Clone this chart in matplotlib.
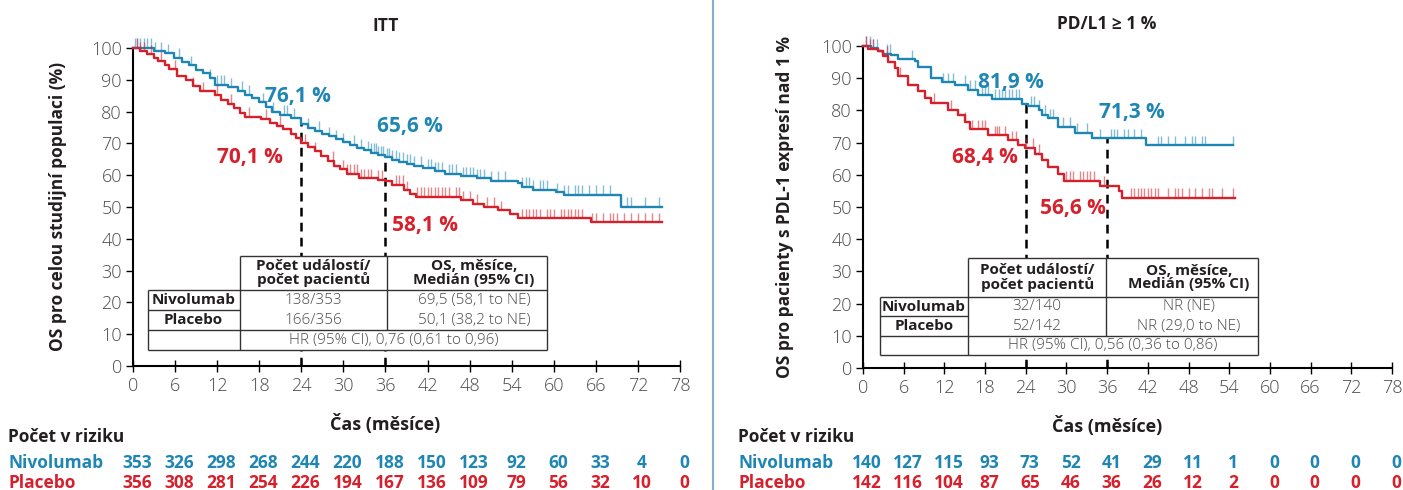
import matplotlib
matplotlib.use("Agg")
import matplotlib.pyplot as plt
import matplotlib.transforms as mtransforms
from matplotlib.patches import Rectangle
import numpy as np

plt.rcParams['font.family'] = ['Open Sans', 'DejaVu Sans']

BLUE = '#1f86b4'
RED = '#d6202c'
DARK = '#231f20'
GRAY = '#4a4a4a'

# ---- data ----
# ITT
itt_nivo_t = [0, 3, 4.5, 5.8, 7, 8, 9, 10, 11, 11.7, 13.5, 15, 16, 17, 18, 19, 19.8, 21, 22.5, 24,
              25, 26, 27, 28, 29, 30, 31, 32, 33, 34, 35, 36, 37, 38, 39, 40, 41.4, 43, 44.5, 46.8,
              49, 51, 54.9, 55.5, 57, 60.3, 61.4, 69.6, 75.4]
itt_nivo_s = [100, 99, 98.3, 97, 95.5, 94.5, 93.2, 92, 90.5, 88.5, 87.6, 86.5, 85.3, 84.2, 83, 81.5,
              80, 79, 78, 76.1, 75, 74, 73, 72.2, 71.3, 70.3, 69.5, 68.5, 67.8, 67, 66.2, 65.6, 64.8,
              64.2, 63.6, 63, 62.2, 61.3, 60.5, 59.6, 59, 58.2, 57.4, 56.4, 55.5, 54.6, 53.8, 50, 50]
itt_plac_t = [0, 1, 2, 3, 3.6, 4.5, 5.2, 6.3, 7.5, 8.5, 9.5, 11.7, 12.5, 13.5, 14.4, 15.2, 16, 18.2,
              19.5, 20.5, 21.4, 22.5, 23.3, 24, 25, 26, 26.8, 27.8, 28.6, 29.5, 30.5, 32.2, 35, 36, 37,
              38.7, 39.5, 40.3, 46.8, 48.5, 50, 52, 53.8, 54.9, 65.3, 75.4]
itt_plac_s = [100, 99, 98, 97, 96, 94.5, 93.3, 91.2, 90, 88, 86.4, 85.3, 83.8, 82.5, 81, 79.5, 78.3,
              77.8, 76.5, 75.5, 74.6, 73, 71.8, 70.1, 68.8, 67.5, 66, 64.5, 63, 61.8, 60.5, 59.1, 58.6,
              58.1, 57, 55.3, 54.2, 53.2, 52.1, 51, 50, 49, 47.9, 46.5, 45.2, 45.2]
itt_nivo_cens = [0.3, 0.6, 1, 1.5, 2, 2.5, 3.2, 4, 5, 6.5, 8.3, 11, 12, 12.5, 13, 14, 15.5, 16.5,
                 18.5, 20, 21.5, 22, 23, 25, 26.5, 28, 29, 30, 31.5, 32.5, 33.5, 34, 34.3, 34.6, 35,
                 35.3, 35.6, 36.2, 36.5, 37, 37.5, 38, 38.5, 39, 39.5, 40, 41, 42, 42.5, 43, 43.5,
                 44, 45, 45.5, 46, 47, 47.5, 48, 48.5, 49, 49.5, 50, 51, 52, 53, 55.5, 56, 56.5, 57,
                 58, 58.5, 59, 60.5, 61.5, 62, 63, 63.5, 64, 65, 66, 67, 68, 70.5, 71, 73, 75]
itt_plac_cens = [0.5, 1, 1.5, 2.5, 4, 6, 8.5, 10, 12, 14, 16.5, 19, 21, 24.5, 26, 28.5, 30, 30.5, 31,
                 31.5, 32, 32.5, 33, 33.5, 34, 35, 35.5, 37.5, 38, 38.5, 39, 40.5, 41, 41.5, 42,
                 42.5, 43, 43.5, 44, 44.5, 45, 46, 46.5, 47, 48, 49, 50.5, 51.5, 52.5, 55.5, 56,
                 56.5, 57, 57.5, 58, 59, 59.5, 60, 61, 61.5, 62, 62.5, 63, 63.5, 64, 65.5, 66, 67,
                 68, 68.5, 69, 70, 71, 72, 73, 74, 75]

# PD-L1 >= 1 %
pd_nivo_t = [0, 1.2, 2.2, 3, 4.2, 5.2, 7.6, 8.1, 10.1, 11.6, 13.5, 15.5, 17, 19, 23.5, 24.4, 25.9,
             26.4, 27.3, 28.8, 31.3, 33.7, 41.8, 54.5]
pd_nivo_s = [100, 99.3, 98.5, 97.5, 97.1, 95.9, 95.3, 93.6, 90.1, 88.7, 88, 86.4, 84.9, 83.5, 81.9,
             81.4, 80.2, 78.6, 77.5, 74.9, 73, 71.3, 69.2, 69.2]
pd_plac_t = [0, 0.7, 2.2, 3, 3.7, 4.7, 5.2, 6.7, 8.1, 9.1, 10.1, 12.6, 14, 15, 15.8, 18.5, 21.4,
             22.9, 23.9, 25.4, 26.4, 27.3, 28.8, 29.6, 34.9, 37.7, 38.2, 54.8]
pd_plac_s = [100, 99.2, 98.5, 96.9, 95, 93.2, 90.6, 88, 85.9, 83.8, 82.3, 80.2, 78.6, 76.5, 74.1,
             72.3, 70.7, 69.2, 68.4, 66.5, 64.5, 62.4, 60.3, 58.2, 56.6, 55, 52.9, 52.9]
pd_nivo_cens = [0.5, 1, 1.5, 2, 3.5, 4, 7.2, 11.8, 12.5, 13.2, 15, 15.8, 16.5, 17.5, 18, 18.5, 19.5,
                20, 20.5, 21, 21.5, 22, 22.5, 23, 24.8, 25.2, 26, 26.8, 27.5, 28, 29.5, 30.5, 31.5,
                33, 35, 36.5, 37, 37.5, 38.5, 39, 40, 41, 43.5, 44, 45, 46, 47.5, 48.5, 49, 50,
                50.5, 54.5]
pd_plac_cens = [0.5, 1, 1.5, 3.5, 5.5, 10.5, 13, 15, 16, 17, 17.5, 18, 19.5, 19.8, 20, 21, 22, 22.5,
                24, 25, 26, 30, 30.5, 31, 32, 32.5, 33, 33.5, 34, 35.5, 39.5, 40, 40.5, 41, 41.5,
                42, 42.5, 43, 43.5, 45, 46, 46.5, 47, 48, 49, 50, 51, 51.5, 53, 54.5]

risk_times = [0, 6, 12, 18, 24, 30, 36, 42, 48, 54, 60, 66, 72, 78]
itt_risk_nivo = [353, 326, 298, 268, 244, 220, 188, 150, 123, 92, 60, 33, 4, 0]
itt_risk_plac = [356, 308, 281, 254, 226, 194, 167, 136, 109, 79, 56, 32, 10, 0]
pd_risk_nivo = [140, 127, 115, 93, 73, 52, 41, 29, 11, 1, 0, 0, 0, 0]
pd_risk_plac = [142, 116, 104, 87, 65, 46, 36, 26, 12, 2, 0, 0, 0, 0]

itt_marks = {'nivo': [(24, 76.1), (36, 65.6)], 'plac': [(24, 70.1), (36, 58.1)]}
pd_marks = {'nivo': [(24, 81.9), (36, 71.3)], 'plac': [(24, 68.4), (36, 56.6)]}

itt_table = [['138/353', '69,5 (58,1 to NE)'], ['166/356', '50,1 (38,2 to NE)']]
itt_hr = 'HR (95% CI), 0,76 (0,61 to 0,96)'
pd_table = [['32/140', 'NR (NE)'], ['52/142', 'NR (29,0 to NE)']]
pd_hr = 'HR (95% CI), 0,56 (0,36 to 0,86)'


def surv_at(t, s, x):
    t = np.asarray(t)
    idx = np.searchsorted(t, x, side='right') - 1
    return np.asarray(s)[np.clip(idx, 0, len(s) - 1)]


def panel(ax, nt, ns, pt, ps, ncens, pcens, marks, labels, table, hr, tbx, tby, title, ylabel, ylabx):
    ax.step(nt, ns, where='post', color=BLUE, lw=1.7, zorder=3, clip_on=False)
    ax.step(pt, ps, where='post', color=RED, lw=1.7, zorder=3, clip_on=False)
    cn = np.asarray(ncens)
    cn = cn[cn <= nt[-1]]
    yv = surv_at(nt, ns, cn)
    ax.vlines(cn, yv, yv + 3.0, color=BLUE, lw=1.0, alpha=0.55, zorder=3, clip_on=False)
    cp = np.asarray(pcens)
    cp = cp[cp <= pt[-1]]
    yv = surv_at(pt, ps, cp)
    ax.vlines(cp, yv, yv + 3.0, color=RED, lw=1.0, alpha=0.55, zorder=3, clip_on=False)

    # dashed landmarks
    for (x, y) in marks['nivo']:
        ax.plot([x, x], [0, y], color='black', lw=1.8, ls=(0, (3.5, 2.5)), zorder=2)

    for txt, (x, y), c in labels:
        ax.text(x, y, txt, color=c, fontsize=15, fontweight='bold', ha='center', va='center')

    # table
    x0, x1, x2, x3 = tbx
    y0, y1, y2, y3, y4 = tby
    ax.add_patch(Rectangle((x0, y4), x3 - x0, y1 - y4, fc='white', ec='none', zorder=4))
    ax.add_patch(Rectangle((x1, y1), x3 - x1, y0 - y1, fc='white', ec='none', zorder=4))
    lk = dict(color='#333333', lw=1.0, zorder=5, solid_capstyle='butt')
    ax.plot([x1, x3], [y0, y0], **lk)
    ax.plot([x0, x3], [y1, y1], **lk)
    ax.plot([x0, x1], [y2, y2], **lk)
    ax.plot([x0, x3], [y3, y3], **lk)
    ax.plot([x0, x3], [y4, y4], **lk)
    ax.plot([x0, x0], [y1, y4], **lk)
    ax.plot([x1, x1], [y0, y4], **lk)
    ax.plot([x2, x2], [y0, y3], **lk)
    ax.plot([x3, x3], [y0, y4], **lk)
    hk = dict(fontsize=11, fontweight='bold', color=DARK, ha='center', va='center', zorder=6,
              linespacing=0.95)
    ax.text((x1 + x2) / 2, (y0 + y1) / 2, 'Počet událostí/\npočet pacientů', **hk)
    ax.text((x2 + x3) / 2 + 1, (y0 + y1) / 2, 'OS, měsíce,\nMedián (95% CI)', **hk)
    ax.text((x0 + x1) / 2, (y1 + y2) / 2, 'Nivolumab', **hk)
    ax.text((x0 + x1) / 2, (y2 + y3) / 2, 'Placebo', **hk)
    ck = dict(fontsize=11, color=GRAY, ha='center', va='center', zorder=6, fontweight='light')
    for r, (yy_a, yy_b) in enumerate([(y1, y2), (y2, y3)]):
        ax.text((x1 + x2) / 2, (yy_a + yy_b) / 2, table[r][0], **ck)
        ax.text((x2 + x3) / 2 + 1, (yy_a + yy_b) / 2, table[r][1], **ck)
    ax.text((x1 + x3) / 2, (y3 + y4) / 2, hr, **ck)

    ax.set_xlim(0, 78)
    ax.set_ylim(0, 100)
    ax.set_xticks(risk_times)
    ax.set_yticks(range(0, 101, 10))
    for sp in ['top', 'right']:
        ax.spines[sp].set_visible(False)
    for sp in ['left', 'bottom']:
        ax.spines[sp].set_linewidth(1.5)
        ax.spines[sp].set_color('black')
    ax.tick_params(axis='x', direction='inout', length=8, width=1.0, labelsize=13,
                   labelcolor=GRAY, pad=4)
    ax.tick_params(axis='y', direction='out', length=5, width=1.0, labelsize=13,
                   labelcolor=GRAY, pad=3)
    for lab in ax.get_xticklabels() + ax.get_yticklabels():
        lab.set_fontweight('light')
    ax.text(36, 1.04, title, transform=ax.get_xaxis_transform(), ha='center', va='bottom',
            fontsize=12.5, fontweight='bold', color=DARK)
    ax.text(36, -0.15, 'Čas (měsíce)', transform=ax.get_xaxis_transform(), ha='center',
            va='top', fontsize=13, fontweight='bold', color=DARK)
    fig.text(ylabx, 0.578, ylabel, rotation=90, ha='center', va='center', fontsize=12.5,
             fontweight='bold', color=DARK)


fig = plt.figure(figsize=(14.03, 4.9), dpi=100)
ax1 = fig.add_axes([133 / 1403, 1 - 366 / 490, 547 / 1403, 318 / 490])
ax2 = fig.add_axes([863 / 1403, 1 - 368 / 490, 529 / 1403, 322 / 490])

panel(ax1, itt_nivo_t, itt_nivo_s, itt_plac_t, itt_plac_s, itt_nivo_cens, itt_plac_cens, itt_marks,
      [('76,1 %', (23.5, 84.6), BLUE), ('65,6 %', (39.5, 75.2), BLUE),
       ('70,1 %', (16.7, 65.7), RED), ('58,1 %', (41.7, 44.3), RED)],
      itt_table, itt_hr, [2.1, 15.2, 36.2, 59.1], [34.6, 23.9, 17.6, 11.3, 5.0],
      'ITT', 'OS pro celou studijní populaci (%)', 58 / 1403)
panel(ax2, pd_nivo_t, pd_nivo_s, pd_plac_t, pd_plac_s, pd_nivo_cens, pd_plac_cens, pd_marks,
      [('81,9 %', (21.8, 88.8), BLUE), ('71,3 %', (39.6, 79.5), BLUE),
       ('68,4 %', (18.0, 65.5), RED), ('56,6 %', (30.9, 49.4), RED)],
      pd_table, pd_hr, [2.5, 15.5, 35.9, 58.2], [34.2, 22.0, 16.1, 9.9, 4.0],
      'PD/L1 ≥ 1 %', 'OS pro pacienty s PDL-1 expresí nad 1 %', 785 / 1403)

# risk tables
for ax, xl, rn, rp in [(ax1, 8, itt_risk_nivo, itt_risk_plac), (ax2, 738, pd_risk_nivo, pd_risk_plac)]:
    fig.text(xl / 1403, 1 - 437 / 490, 'Počet v riziku', fontsize=12.5, fontweight='bold',
             color=DARK, va='center')
    fig.text(xl / 1403, 1 - 463 / 490, 'Nivolumab', fontsize=12.5, fontweight='bold',
             color=BLUE, va='center')
    fig.text(xl / 1403, 1 - 483 / 490, 'Placebo', fontsize=12.5, fontweight='bold',
             color=RED, va='center')
    tr = mtransforms.blended_transform_factory(ax.transData, fig.transFigure)
    for t, a, b in zip(risk_times, rn, rp):
        ax.text(t + 0.6, 1 - 463 / 490, str(a), transform=tr, ha='center', va='center',
                fontsize=12.5, fontweight='bold', color=BLUE)
        ax.text(t + 0.6, 1 - 483 / 490, str(b), transform=tr, ha='center', va='center',
                fontsize=12.5, fontweight='bold', color=RED)

# divider
fig.add_artist(plt.Line2D([713 / 1403, 713 / 1403], [0, 1], color='#86aec8', lw=1.5,
                          transform=fig.transFigure))

fig.savefig('out.png', dpi=100)
